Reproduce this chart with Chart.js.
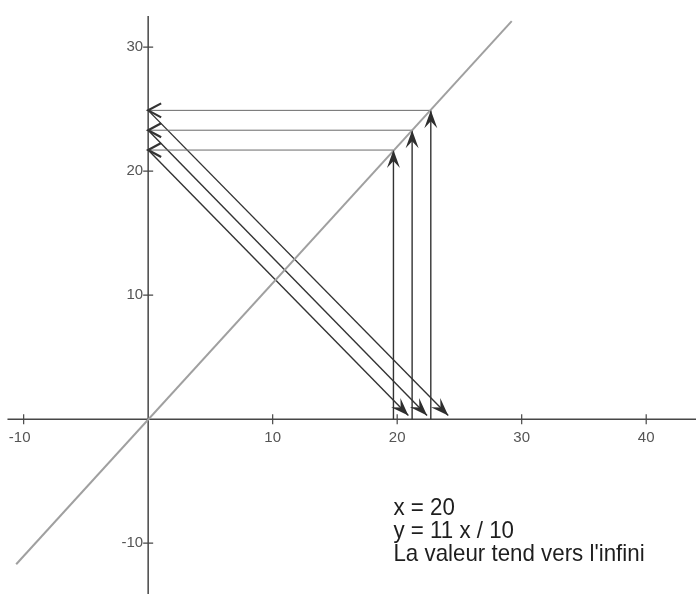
<!DOCTYPE html>
<html>
<head>
<meta charset="utf-8">
<script src="https://cdn.jsdelivr.net/npm/chart.js@4/dist/chart.umd.min.js"></script>
<style>
  html, body { margin: 0; padding: 0; background: #ffffff; }
  #wrap { width: 696px; height: 594px; position: relative; }
</style>
</head>
<body>
<div id="wrap"><canvas id="c" width="696" height="594"></canvas></div>
<script>
// ---- data ----
const xTicks = [-10, 10, 20, 30, 40];
const yTicks = [-10, 10, 20, 30];
const lineX = [-10.6, 29.2];          // y = 11x/10 line ends
const lineY = [-11.7, 32.1];
const stepX = [19.7, 21.2, 22.7];     // vertical arrows (x values)
const stepY = [21.7, 23.3, 24.9];     // levels reached on the line
const diagEndX = [20.9, 22.4, 24.1];  // diagonal arrows end on x axis
const diagEndY = [0.3, 0.3, 0.3];
const notes = ['x = 20', 'y = 11 x / 10', "La valeur tend vers l'infini"];

const datasets = [];
datasets.push({
  data: lineX.map((x, i) => ({x: x, y: lineY[i]})),
  borderColor: '#a0a0a0', borderWidth: 2, arrow: null
});
for (let i = 0; i < stepX.length; i++) {
  datasets.push({
    data: [{x: stepX[i], y: 0}, {x: stepX[i], y: stepY[i]}],
    borderColor: '#333333', borderWidth: 1.4, arrow: 'filled'
  });
  datasets.push({
    data: [{x: stepX[i], y: stepY[i]}, {x: 0, y: stepY[i]}],
    borderColor: '#6a6a6a', borderWidth: 1, arrow: 'open'
  });
  datasets.push({
    data: [{x: 0, y: stepY[i]}, {x: diagEndX[i], y: diagEndY[i]}],
    borderColor: '#333333', borderWidth: 1.4, arrow: 'filled'
  });
}
datasets.forEach(d => { d.showLine = true; d.pointRadius = 0; d.fill = false; d.tension = 0; });

const axesPlugin = {
  id: 'axesPlugin',
  beforeDatasetsDraw(chart) {
    const ctx = chart.ctx, xs = chart.scales.x, ys = chart.scales.y;
    const ox = xs.getPixelForValue(0), oy = ys.getPixelForValue(0);
    ctx.save();
    ctx.strokeStyle = '#474747';
    ctx.lineWidth = 1.5;
    ctx.beginPath();
    ctx.moveTo(xs.getPixelForValue(-11.3), oy);
    ctx.lineTo(xs.getPixelForValue(44.5), oy);
    ctx.moveTo(ox, ys.getPixelForValue(32.5));
    ctx.lineTo(ox, ys.getPixelForValue(-14.2));
    ctx.stroke();
    ctx.lineWidth = 1.2;
    ctx.beginPath();
    xTicks.forEach(v => { const p = xs.getPixelForValue(v); ctx.moveTo(p, oy - 5); ctx.lineTo(p, oy + 5); });
    yTicks.forEach(v => { const p = ys.getPixelForValue(v); ctx.moveTo(ox - 5, p); ctx.lineTo(ox + 5, p); });
    ctx.stroke();
    ctx.fillStyle = '#555555';
    ctx.font = '15px "Liberation Sans", Arial, sans-serif';
    ctx.textAlign = 'center';
    ctx.textBaseline = 'top';
    xTicks.forEach(v => { ctx.fillText(String(v), xs.getPixelForValue(v) - (v < 0 ? 4 : 0), oy + 11); });
    ctx.textAlign = 'right';
    ctx.textBaseline = 'middle';
    yTicks.forEach(v => { ctx.fillText(String(v), ox - 5, ys.getPixelForValue(v)); });
    ctx.restore();
  },
  afterDatasetsDraw(chart) {
    const ctx = chart.ctx;
    chart.data.datasets.forEach((ds, i) => {
      if (!ds.arrow) return;
      const pts = chart.getDatasetMeta(i).data;
      const a = pts[pts.length - 2], b = pts[pts.length - 1];
      const ang = Math.atan2(b.y - a.y, b.x - a.x);
      ctx.save();
      ctx.translate(b.x, b.y);
      ctx.rotate(ang);
      ctx.strokeStyle = '#333';
      ctx.fillStyle = '#2e2e2e';
      if (ds.arrow === 'filled') {
        ctx.beginPath();
        ctx.moveTo(0, 0);
        ctx.lineTo(-18, -6.5);
        ctx.lineTo(-11, 0);
        ctx.lineTo(-18, 6.5);
        ctx.closePath();
        ctx.fill();
      } else {
        ctx.lineWidth = 2.2;
        ctx.beginPath();
        ctx.moveTo(-13, -7);
        ctx.lineTo(0, 0);
        ctx.lineTo(-13, 7);
        ctx.stroke();
      }
      ctx.restore();
    });
    // notes text (condensed look)
    const xs = chart.scales.x, ys = chart.scales.y;
    ctx.save();
    ctx.fillStyle = '#1e1e1e';
    ctx.font = '24px "Liberation Sans", Arial, sans-serif';
    ctx.textAlign = 'left';
    ctx.textBaseline = 'middle';
    const left = xs.getPixelForValue(19.7);
    const sx = 0.93;
    notes.forEach((t, k) => {
      ctx.save();
      ctx.translate(left, ys.getPixelForValue(0) + 89 + k * 23);
      ctx.scale(sx, 1);
      ctx.fillText(t, 0, 0);
      ctx.restore();
    });
    ctx.restore();
  }
};

new Chart(document.getElementById('c'), {
  type: 'scatter',
  data: { datasets: datasets },
  options: {
    responsive: false,
    animation: false,
    layout: { padding: 0 },
    plugins: { legend: { display: false }, tooltip: { enabled: false } },
    scales: {
      x: { type: 'linear', min: -11.9, max: 44.0, display: false },
      y: { type: 'linear', min: -14.1, max: 33.8, display: false }
    }
  },
  plugins: [axesPlugin]
});
</script>
</body>
</html>
